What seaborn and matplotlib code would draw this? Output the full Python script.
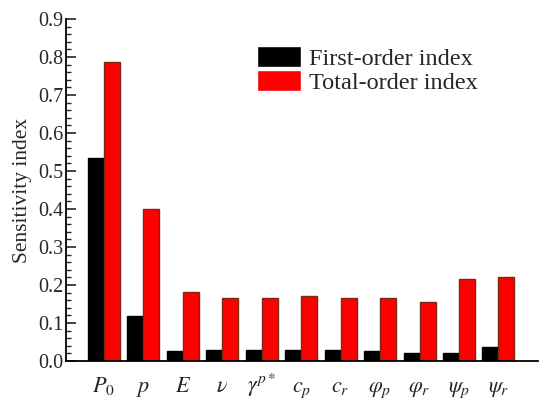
import matplotlib
matplotlib.use("Agg")
import matplotlib.pyplot as plt
from matplotlib.ticker import MultipleLocator
import pandas as pd
import seaborn as sns

params = [r"$P_0$", r"$p$", r"$E$", r"$\nu$", r"$\gamma^{p*}$", r"$c_p$", r"$c_r$",
          r"$\varphi_p$", r"$\varphi_r$", r"$\psi_p$", r"$\psi_r$"]
first_order = [0.535, 0.119, 0.026, 0.028, 0.028, 0.028, 0.028, 0.027, 0.020, 0.020, 0.037]
total_order = [0.786, 0.399, 0.181, 0.167, 0.167, 0.171, 0.167, 0.165, 0.155, 0.217, 0.221]
series = ["First-order index", "Total-order index"]

df = pd.DataFrame({
    "param": params * 2,
    "value": first_order + total_order,
    "series": [series[0]] * len(params) + [series[1]] * len(params),
})

sns.set_style("ticks")
plt.rcParams["font.family"] = ["Liberation Serif", "DejaVu Serif"]
plt.rcParams["mathtext.fontset"] = "stix"

fig = plt.figure(figsize=(5.5, 4.05), dpi=100)
ax = fig.add_axes([0.12, 0.1086, 0.858, 0.8444])

sns.barplot(data=df, x="param", y="value", hue="series", order=params,
            hue_order=series, palette=["black", "#ff0000"], width=0.81,
            saturation=1, ax=ax, legend=True)

edges = ["black", "#7a2a10"]
for cont, ec in zip(ax.containers, edges):
    for patch in cont:
        patch.set_edgecolor(ec)
        patch.set_linewidth(1.0)

ax.set_xlim(-0.96, 11.0)
ax.set_ylim(0, 0.9)
ax.yaxis.set_major_locator(MultipleLocator(0.1))
ax.yaxis.set_minor_locator(MultipleLocator(0.02))
ax.yaxis.set_major_formatter(matplotlib.ticker.FormatStrFormatter("%.1f"))
ax.tick_params(axis="y", which="major", direction="in", length=7, width=1.2, labelsize=14.5, pad=2)
ax.tick_params(axis="y", which="minor", direction="in", length=3.5, width=1.0)
ax.tick_params(axis="x", length=0, labelsize=16, pad=22.5)
for lbl in ax.get_xticklabels():
    lbl.set_verticalalignment("baseline")
ax.set_xlabel("")
ax.set_ylabel("Sensitivity index", fontsize=15.5, labelpad=4.5)
for s in ["top", "right"]:
    ax.spines[s].set_visible(False)
for s in ["left", "bottom"]:
    ax.spines[s].set_linewidth(1.3)
    ax.spines[s].set_color("black")

handles, labels = ax.get_legend_handles_labels()
leg = ax.legend(handles, labels, loc="upper left", bbox_to_anchor=(0.405, 0.921),
                frameon=False, fontsize=17.5, handlelength=1.8, handleheight=0.95,
                handletextpad=0.35, labelspacing=0.0, borderpad=0, borderaxespad=0)

fig.savefig("out.png", dpi=100)
